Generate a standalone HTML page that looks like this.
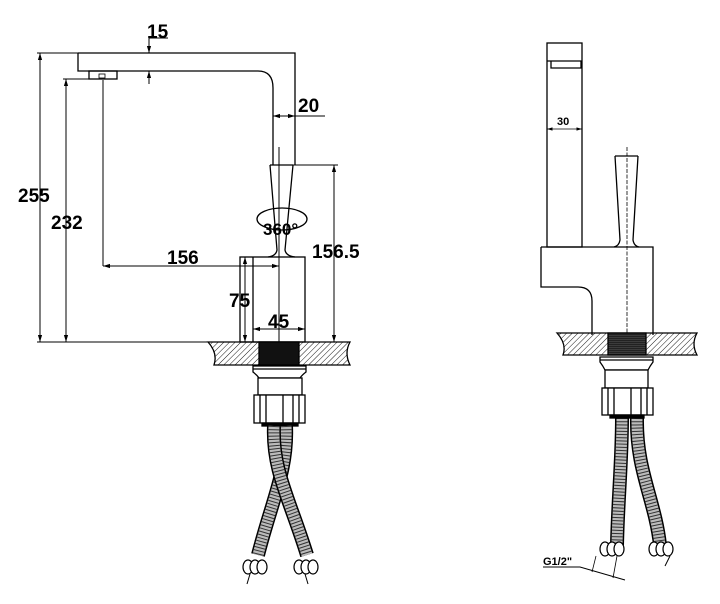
<!DOCTYPE html>
<html><head><style>
html,body{margin:0;padding:0;background:#fff;}
svg{display:block;}
text{font-family:"Liberation Sans",Arial,sans-serif;font-weight:bold;fill:#000;}
</style></head><body>
<svg width="720" height="604" viewBox="0 0 720 604" xmlns="http://www.w3.org/2000/svg">
<defs>
<pattern id="h" width="4" height="4" patternUnits="userSpaceOnUse" patternTransform="rotate(45)">
<line x1="0" y1="0" x2="0" y2="4" stroke="#000" stroke-width="0.9"/>
</pattern>
<pattern id="t" width="4" height="2" patternUnits="userSpaceOnUse">
<rect width="4" height="2" fill="#222"/><line x1="0" y1="1.5" x2="4" y2="1.5" stroke="#555" stroke-width="0.5"/>
</pattern>
<marker id="a" viewBox="0 0 10 10" refX="10" refY="5" markerWidth="7" markerHeight="7" orient="auto-start-reverse"><path d="M0,2 L10,5 L0,8 z" fill="#000"/></marker>
</defs>
<g fill="none" stroke="#000" stroke-width="1.3">
<path d="M78,53 H295 V165 M78,53 V71 H258 Q273,71 273,88 V165"/>
<rect x="89" y="71" width="28" height="8"/>
<rect x="99" y="74" width="6" height="4" stroke-width="0.8"/>
<path d="M270,165 L277,250 Q276,256 268,257 M293,165 L285,250 Q286,256 295,257 M270,165 H293"/>
<rect x="240" y="257" width="65" height="85"/>
<line x1="253" y1="257" x2="253" y2="342"/>
<line x1="279" y1="147" x2="279" y2="342" stroke-width="1"/>
<ellipse cx="282" cy="219" rx="25" ry="11"/>
<g stroke-width="1">
<line x1="37" y1="53" x2="78" y2="53"/>
<line x1="63" y1="79" x2="89" y2="79"/>
<line x1="37" y1="342" x2="240" y2="342"/>
<line x1="40" y1="53" x2="40" y2="342" marker-start="url(#a)" marker-end="url(#a)"/>
<line x1="66" y1="79" x2="66" y2="342" marker-start="url(#a)" marker-end="url(#a)"/>
<line x1="149" y1="38" x2="149" y2="53" marker-end="url(#a)"/>
<line x1="149" y1="84" x2="149" y2="71" marker-end="url(#a)"/>
<line x1="149" y1="38" x2="168" y2="38"/>
<line x1="273" y1="116" x2="295" y2="116" marker-start="url(#a)" marker-end="url(#a)"/>
<line x1="295" y1="116" x2="325" y2="116"/>
<line x1="103" y1="80" x2="103" y2="266"/>
<line x1="103" y1="266" x2="279" y2="266" marker-start="url(#a)" marker-end="url(#a)"/>
<line x1="245" y1="257" x2="245" y2="342" marker-start="url(#a)" marker-end="url(#a)"/>
<line x1="253" y1="329" x2="305" y2="329" marker-start="url(#a)" marker-end="url(#a)"/>
<line x1="293" y1="165" x2="338" y2="165"/>
<line x1="334" y1="165" x2="334" y2="342" marker-start="url(#a)" marker-end="url(#a)"/>
<line x1="305" y1="342" x2="350" y2="342"/>
</g>
<path d="M208,342 H350 Q344,353 350,365 H214 Q218,353 208,342 Z" fill="url(#h)"/>
<rect x="259" y="342" width="40" height="23" fill="#111"/>
<path d="M253,366 H306 V372 Q302,375 300,378 H259 Q257,375 253,372 Z" fill="#fff"/>
<line x1="253" y1="369" x2="306" y2="369"/>
<rect x="258" y="378" width="44" height="17" fill="#fff"/>
<rect x="254" y="395" width="51" height="28" fill="#fff"/>
<path d="M260,395 V423 M266,395 V423 M283,395 V423 M293,395 V423 M299,395 V423"/>
<rect x="262" y="423" width="36" height="3" fill="#000"/>
</g>
<g fill="none" stroke-linecap="butt">
<path d="M286,426 C288,470 272,500 258,555" stroke="#000" stroke-width="14"/>
<path d="M286,426 C288,470 272,500 258,555" stroke="#bbb" stroke-width="11"/>
<path d="M286,426 C288,470 272,500 258,555" stroke="#333" stroke-width="11" stroke-dasharray="1 2.2"/>
<path d="M274,426 C272,470 290,500 307,555" stroke="#000" stroke-width="14"/>
<path d="M274,426 C272,470 290,500 307,555" stroke="#bbb" stroke-width="11"/>
<path d="M274,426 C272,470 290,500 307,555" stroke="#333" stroke-width="11" stroke-dasharray="1 2.2"/>
<path d="M622,418 C622,460 618,500 617,545" stroke="#000" stroke-width="14"/>
<path d="M622,418 C622,460 618,500 617,545" stroke="#bbb" stroke-width="11"/>
<path d="M622,418 C622,460 618,500 617,545" stroke="#333" stroke-width="11" stroke-dasharray="1 2.2"/>
<path d="M637,418 C636,470 655,500 660,545" stroke="#000" stroke-width="14"/>
<path d="M637,418 C636,470 655,500 660,545" stroke="#bbb" stroke-width="11"/>
<path d="M637,418 C636,470 655,500 660,545" stroke="#333" stroke-width="11" stroke-dasharray="1 2.2"/>
</g>
<g fill="#fff" stroke="#000" stroke-width="1.2">
<ellipse cx="248" cy="567" rx="5" ry="7"/><ellipse cx="255" cy="567" rx="5" ry="7"/><ellipse cx="262" cy="567" rx="5" ry="7"/>
<ellipse cx="299" cy="567" rx="5" ry="7"/><ellipse cx="306" cy="567" rx="5" ry="7"/><ellipse cx="313" cy="567" rx="5" ry="7"/>
<ellipse cx="605" cy="549" rx="5" ry="7"/><ellipse cx="612" cy="549" rx="5" ry="7"/><ellipse cx="619" cy="549" rx="5" ry="7"/>
<ellipse cx="654" cy="549" rx="5" ry="7"/><ellipse cx="661" cy="549" rx="5" ry="7"/><ellipse cx="668" cy="549" rx="5" ry="7"/>
</g>
<g stroke="#000" stroke-width="1">
<line x1="250" y1="574" x2="247" y2="584"/><line x1="305" y1="574" x2="308" y2="584"/>
<line x1="670" y1="556" x2="665" y2="566"/>
</g>
<g fill="none" stroke="#000" stroke-width="1.3">
<rect x="547" y="43" width="35" height="204"/>
<line x1="547" y1="61" x2="582" y2="61"/>
<path d="M551,61 V68 H581 V61"/>
<path d="M615,156 L620,240 Q619,246 614,247 M638,156 L633,240 Q634,246 639,247 M615,156 H638"/>
<path d="M541,247 H653 V335 M541,247 V287 H578 Q592,287 592,301 V335"/>
<line x1="627" y1="147" x2="627" y2="340" stroke-width="0.8" stroke-dasharray="4 1.5"/>
<line x1="547" y1="129" x2="582" y2="129" stroke-width="0.8" marker-start="url(#a)" marker-end="url(#a)"/>
<path d="M557,333 H697 Q691,344 697,355 H563 Q567,344 557,333 Z" fill="url(#h)"/>
<rect x="608" y="333" width="38" height="22" fill="url(#t)"/>
<path d="M600,357 H653 V362 Q650,366 648,370 H605 Q603,366 600,362 Z" fill="#fff"/>
<line x1="600" y1="360" x2="653" y2="360"/>
<rect x="605" y="370" width="43" height="18" fill="#fff"/>
<rect x="602" y="388" width="51" height="27" fill="#fff"/>
<path d="M608,388 V415 M614,388 V415 M631,388 V415 M641,388 V415 M647,388 V415"/>
<rect x="610" y="415" width="34" height="3" fill="#000"/>
<path d="M543,567 H580 L625,580" stroke-width="1"/>
<line x1="596" y1="556" x2="592" y2="572" stroke-width="0.8"/>
<line x1="617" y1="556" x2="613" y2="578" stroke-width="0.8"/>
</g>
<text x="147" y="38" font-size="19">15</text>
<text x="298" y="112" font-size="19">20</text>
<text x="18" y="202" font-size="19">255</text>
<text x="51" y="229" font-size="19">232</text>
<text x="167" y="264" font-size="19">156</text>
<text x="263" y="235" font-size="17">360°</text>
<text x="312" y="258" font-size="19">156.5</text>
<text x="229" y="307" font-size="19">75</text>
<text x="268" y="328" font-size="19">45</text>
<text x="557" y="125" font-size="11">30</text>
<text x="543" y="565" font-size="11">G1/2"</text>
</svg>
</body></html>
